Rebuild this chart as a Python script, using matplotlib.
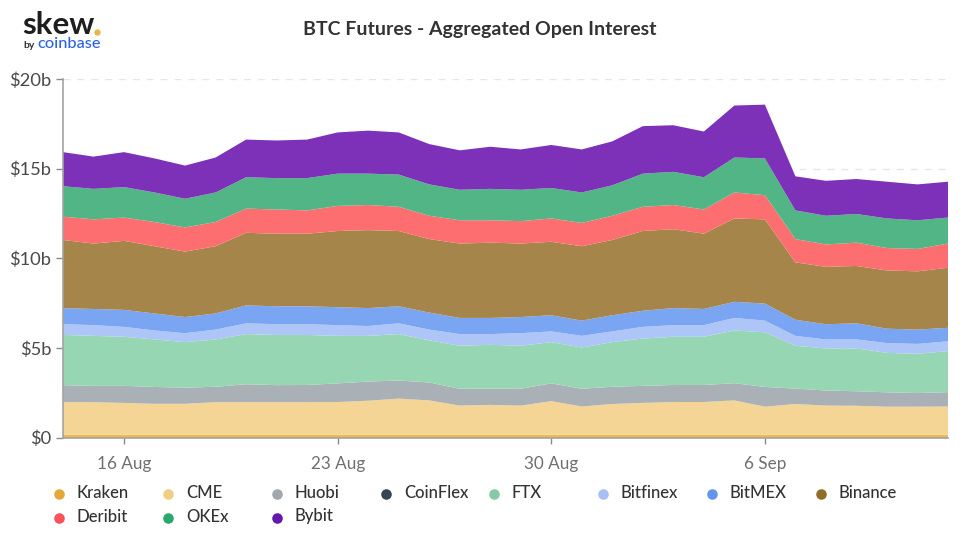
import numpy as np
import matplotlib
matplotlib.use("Agg")
import matplotlib.pyplot as plt
from matplotlib.lines import Line2D

plt.rcParams['font.family'] = ['Lato', 'DejaVu Sans']

title = "BTC Futures - Aggregated Open Interest"
dates = np.arange('2021-08-14', '2021-09-13', dtype='datetime64[D]')
tick_dates = np.array(['2021-08-16', '2021-08-23', '2021-08-30', '2021-09-06'], dtype='datetime64[D]')
tick_labels = ['16 Aug', '23 Aug', '30 Aug', '6 Sep']
y_ticks = [0, 5, 10, 15, 20]
y_labels = ['$0', '$5b', '$10b', '$15b', '$20b']

# cumulative upper edge of each band, $bn
kraken_top = [0.15]*30
cme_top = [1.97,1.97,1.93,1.88,1.88,1.97,1.97,1.97,1.97,1.98,2.05,2.17,2.07,1.78,1.82,1.78,2.03,1.73,1.87,1.93,1.98,1.98,2.07,1.72,1.87,1.78,1.77,1.72,1.72,1.73]
huobi_top = [2.92,2.88,2.88,2.82,2.78,2.83,2.97,2.92,2.93,3.02,3.12,3.18,3.07,2.72,2.73,2.72,3.02,2.72,2.83,2.88,2.93,2.93,3.03,2.82,2.73,2.62,2.58,2.52,2.48,2.53]
coinflex_top = huobi_top
ftx_top = [5.72,5.67,5.62,5.47,5.32,5.47,5.77,5.72,5.72,5.67,5.67,5.77,5.42,5.12,5.17,5.12,5.32,5.02,5.32,5.52,5.62,5.62,5.97,5.87,5.12,4.97,4.97,4.72,4.67,4.82]
bitfinex_top = [6.32,6.27,6.17,5.97,5.82,6.02,6.37,6.32,6.32,6.27,6.22,6.37,6.02,5.77,5.77,5.82,5.92,5.67,5.92,6.17,6.27,6.27,6.67,6.52,5.67,5.47,5.47,5.27,5.22,5.37]
bitmex_top = [7.22,7.17,7.12,6.92,6.72,6.92,7.37,7.32,7.32,7.27,7.22,7.32,6.97,6.67,6.67,6.72,6.82,6.52,6.82,7.07,7.22,7.17,7.57,7.47,6.57,6.32,6.37,6.07,6.02,6.12]
binance_top = [11.02,10.82,10.97,10.67,10.37,10.67,11.42,11.37,11.37,11.52,11.57,11.52,11.07,10.82,10.87,10.82,10.92,10.67,11.02,11.52,11.62,11.37,12.22,12.17,9.77,9.52,9.57,9.32,9.27,9.47]
deribit_top = [12.32,12.17,12.27,12.02,11.72,12.02,12.77,12.72,12.67,12.92,12.97,12.87,12.37,12.12,12.12,12.07,12.22,11.97,12.37,12.87,12.97,12.72,13.67,13.52,11.07,10.77,10.87,10.57,10.52,10.82]
okex_top = [14.02,13.87,13.97,13.67,13.32,13.67,14.52,14.47,14.47,14.72,14.72,14.67,14.12,13.82,13.87,13.82,13.92,13.67,14.07,14.72,14.82,14.52,15.62,15.57,12.67,12.37,12.47,12.22,12.12,12.27]
bybit_top = [15.92,15.67,15.92,15.57,15.17,15.62,16.62,16.57,16.62,17.02,17.12,17.02,16.37,16.02,16.22,16.07,16.32,16.07,16.52,17.37,17.42,17.07,18.52,18.57,14.57,14.32,14.42,14.27,14.12,14.27]

names = ['Kraken','CME','Huobi','CoinFlex','FTX','Bitfinex','BitMEX','Binance','Deribit','OKEx','Bybit']
tops = [kraken_top,cme_top,huobi_top,coinflex_top,ftx_top,bitfinex_top,bitmex_top,binance_top,deribit_top,okex_top,bybit_top]
fills = ['#EDB84F','#F5D596','#A9B0B6','#3A4754','#96D6B3','#AEC6F7','#7AA5F2','#A58549','#FC6E6F','#52B585','#7D30B8']
dots = ['#E3A32F','#F2CB7E','#9BA3AA','#2C3A47','#7CC8A0','#A3BCF5','#5A8FEE','#8A651C','#F8484E','#1FA463','#5A0CA8']

W, H = 960, 536
fig = plt.figure(figsize=(W/100, H/100), dpi=100)
fig.patch.set_facecolor('white')
ax = fig.add_axes([63/W, 1-437.5/H, (948-63)/W, (437.5-79)/H])
ax.set_xlim(dates[0], dates[-1])
ax.set_ylim(0, 20)
ax.set_axisbelow(True)
ax.yaxis.grid(True, color='#E6E6E6', lw=1, dashes=(5, 5))
ax.xaxis.grid(False)

vals = np.diff(np.array(tops, dtype=float), axis=0, prepend=0)
ax.stackplot(dates, vals, colors=fills, linewidth=0)

for s in ('top', 'right'):
    ax.spines[s].set_visible(False)
for s in ('left', 'bottom'):
    ax.spines[s].set_color('#A3A3A3')
    ax.spines[s].set_linewidth(1.2)
ax.set_xticks(tick_dates)
ax.set_xticklabels(tick_labels, fontsize=12.3, color='#707070')
ax.set_yticks(y_ticks)
ax.set_yticklabels(y_labels, fontsize=13.2, color='#4A4A4A')
ax.tick_params(axis='x', length=4, width=1, color='#8A8A8A', pad=9)
ax.tick_params(axis='y', length=5, width=1, color='#8A8A8A', pad=3.5)

def px(x, y):
    return x/W, 1-y/H

fig.text(*px(479.5, 29), title, ha='center', va='center', fontsize=14, fontweight='bold', color='#333333')

# logo
fig.text(*px(22, 25), 'skew', ha='left', va='center', fontsize=22.5, fontweight='bold', color='#1E1E1E')
fig.add_artist(Line2D([96.5/W], [1-32/H], marker='o', ms=4.6, color='#E9B44C', mew=0, ls='none', transform=fig.transFigure))
fig.text(*px(23, 46), 'by', ha='left', va='center', fontsize=7.5, fontweight='bold', color='#333333')
fig.text(*px(37, 44.5), 'coinbase', ha='left', va='center', fontsize=11.8, fontweight='medium', color='#2A62E8')

# legend
col_x = [59, 168, 277, 386, 494, 603, 712, 821]
row_y = [494, 518]
for i, (n, c) in enumerate(zip(names, dots)):
    r = i // 8
    cx = col_x[i % 8]
    cy = row_y[r]
    fig.add_artist(Line2D([cx/W], [1-cy/H], marker='o', ms=7.6, color=c, mew=0, ls='none', alpha=0.95, transform=fig.transFigure))
    fig.text(*px(cx+17.8, cy-1.5), n, ha='left', va='center', fontsize=12, fontweight='medium', color='#333333')

fig.savefig('out.png', dpi=100)
